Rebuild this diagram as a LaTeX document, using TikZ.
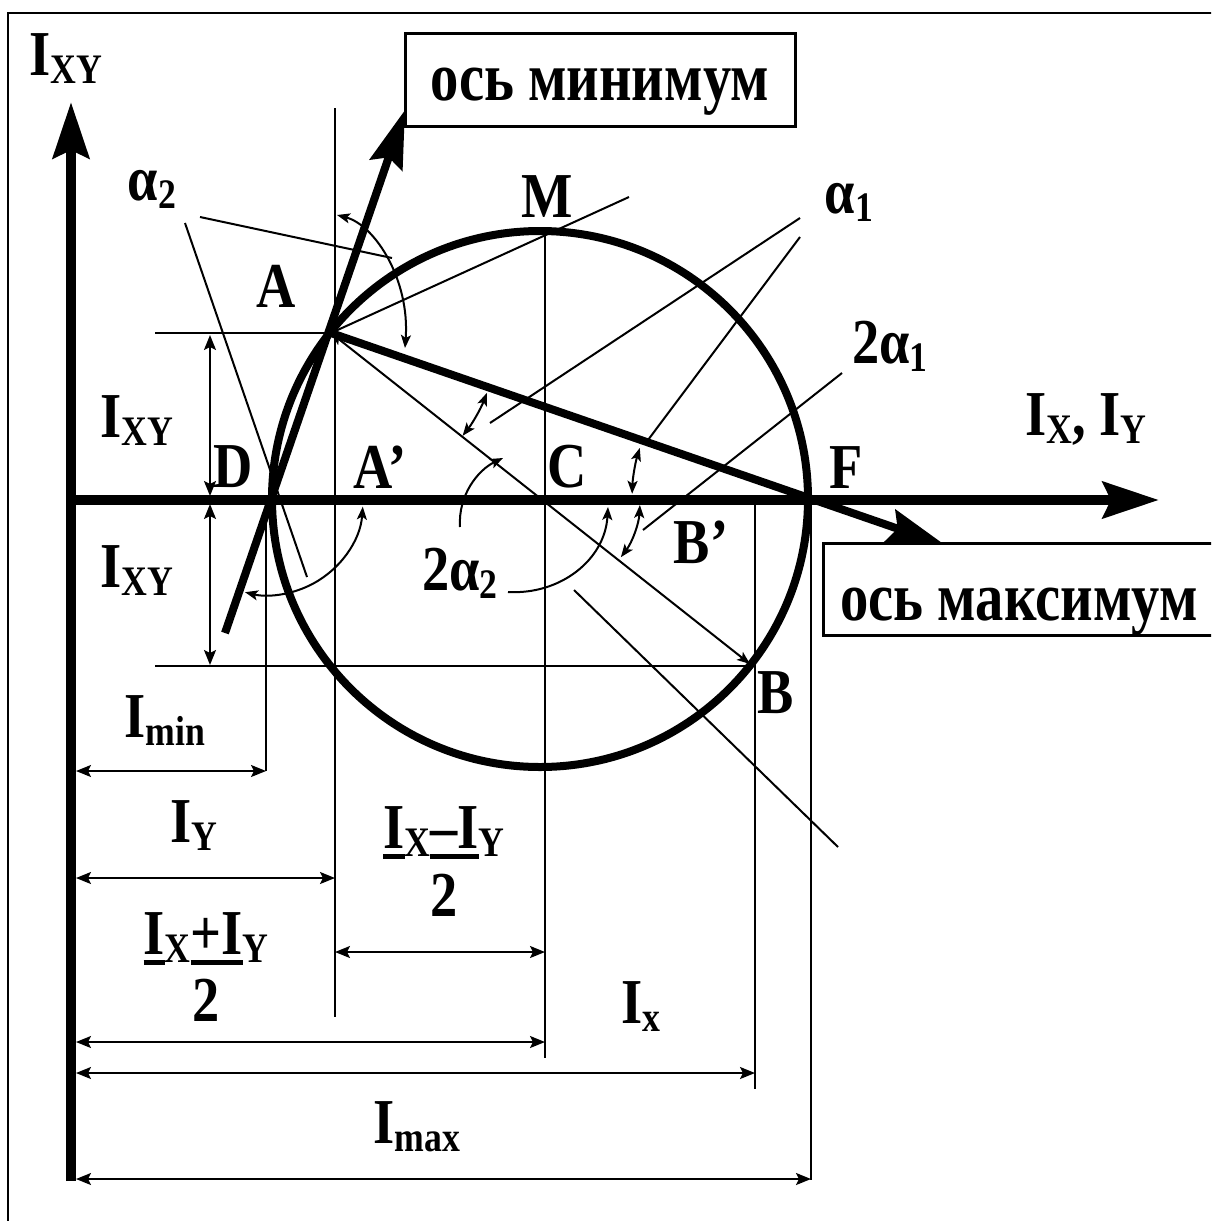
\documentclass[tikz,border=0pt]{standalone}
\usepackage{fontspec}
\setmainfont[FakeStretch=0.85]{Liberation Serif}
\newfontfamily\boxfont[FakeStretch=0.82]{Liberation Serif}
\usetikzlibrary{arrows.meta}
\newcommand\sbs[1]{\raisebox{-8pt}{\fontsize{42pt}{44pt}\selectfont #1}}
\newcommand\ulx[1]{\setbox0\hbox{#1}\rlap{\rule[-11pt]{\wd0}{5pt}}\box0}
\begin{document}
\begin{tikzpicture}[x=1pt,y=1pt,yscale=-1,
  lbl/.style={font=\fontsize{64pt}{64pt}\selectfont\bfseries, inner sep=0pt, anchor=base},
  boxlbl/.style={font=\boxfont\fontsize{69pt}{69pt}\selectfont\bfseries, inner sep=0pt, anchor=base},
  ln/.style={line width=2pt},
  dim/.style={line width=2pt, {Stealth[length=15pt,width=12pt,inset=3pt]}-{Stealth[length=15pt,width=12pt,inset=3pt]}},
  arcd/.style={line width=2pt, {Stealth[length=13pt,width=10pt,inset=3pt]}-{Stealth[length=13pt,width=10pt,inset=3pt]}},
  arcs/.style={line width=2pt, -{Stealth[length=13pt,width=10pt,inset=3pt]}},
  axis/.style={line width=10pt, -{Stealth[length=56pt,width=36pt,inset=8pt]}},
  paxis/.style={line width=8pt, -{Stealth[length=58pt,width=34pt,inset=8pt]}},
  boxed/.style={line width=3pt}
]
\useasboundingbox (0,0) rectangle (1211,1221);
\clip (0,0) rectangle (1211,1221);
% frame
\draw[line width=2pt] (8,1240) -- (8,13) -- (1230,13);

% key points
\coordinate (A) at (331,333);
\coordinate (B) at (750,664);
\coordinate (O) at (540,499);
\coordinate (Cv) at (545,500);
\coordinate (D) at (268,500);
\coordinate (F) at (810,500);

% thin construction lines
\draw[ln] (155,333) -- (A);
\draw[ln] (155,666) -- (755,666);
\draw[ln] (335,108) -- (335,1017);
\draw[ln] (545,232) -- (545,1058);
\draw[ln] (755,505) -- (755,1089);
\draw[ln] (811,505) -- (811,1180);
\draw[ln] (266,505) -- (266,771);
\draw[ln] (A) -- (629,197);
\draw[arcd] (A) -- (B);
% leaders
\draw[ln] (200,217) -- (392,258);
\draw[ln] (185,223) -- (307,577);
\draw[ln] (800,218) -- (490,423);
\draw[ln] (800,237) -- (648,440);
\draw[ln] (842,373) -- (643,530);
\draw[ln] (574,590) -- (838,847);

% dimension lines
\draw[dim] (210,335) -- (210,496);
\draw[dim] (210,504) -- (210,665);
\draw[dim] (76,771) -- (266,771);
\draw[dim] (76,878) -- (335,878);
\draw[dim] (335,952) -- (545,952);
\draw[dim] (76,1042) -- (545,1042);
\draw[dim] (76,1073) -- (755,1073);
\draw[dim] (76,1179) -- (811,1179);

% angle arcs
\draw[arcd] (A) ++(21:167) arc[start angle=21, end angle=38, radius=167];
\draw[arcd] (F) ++(182:178) arc[start angle=182, end angle=197, radius=178];
\draw[arcd] (Cv) ++(3:95) arc[start angle=3, end angle=37, radius=95];
\draw[arcd] (D) ++(4:95) arc[start angle=4, end angle=104, radius=95];
\draw[arcd] (337,215) .. controls (375,225) and (410,280) .. (405,348);
\draw[arcs] (460,527) .. controls (458,495) and (478,470) .. (503,458);
\draw[arcs] (508,592) .. controls (560,595) and (605,560) .. (608,507);

% circle
\draw[line width=8pt] (O) circle[radius=268];

% axes
\draw[axis] (71,1181) -- (71,102);
\draw[axis] (66,500) -- (1159,500);
\draw[paxis] (225,633) -- (405,110);
\draw[paxis] (A) -- (945,545);

% boxes
\draw[boxed] (405,33) rectangle (795,126);
\draw[boxed] (823,543) rectangle (1216,635);
\node[boxlbl] (tmin) at (600,100) {ось минимум};
\node[boxlbl] (tmax) at (1019,620) {ось максимум};

% labels
\node[lbl] (lIxyTop) at (66,75) {I\sbs{XY}};
\node[lbl] (la2) at (152,200) {α\sbs{2}};
\node[lbl] (lA) at (276,307) {A};
\node[lbl] (lM) at (547,217) {M};
\node[lbl] (la1) at (849,213) {α\sbs{1}};
\node[lbl] (l2a1) at (890,363) {2α\sbs{1}};
\node[lbl] (lIxIy) at (1086,435) {I\sbs{X}, I\sbs{Y}};
\node[lbl] (lF) at (846,488) {F};
\node[lbl] (lC) at (567,487) {C};
\node[lbl] (lD) at (233,487) {D};
\node[lbl] (lAp) at (380,488) {A’};
\node[lbl] (lBp) at (701,563) {B’};
\node[lbl] (lB) at (776,713) {B};
\node[lbl] (lIxy1) at (137,437) {I\sbs{XY}};
\node[lbl] (lIxy2) at (137,587) {I\sbs{XY}};
\node[lbl] (l2a2) at (460,590) {2α\sbs{2}};
\node[lbl] (lImin) at (165,737) {I\sbs{min}};
\node[lbl] (lIy) at (194,842) {I\sbs{Y}};
\node[lbl] (lfrac1) at (444,848) {\ulx{I}\sbs{X}\ulx{–I}\sbs{Y}};
\node[lbl] (lfrac1d) at (444,916) {2};
\node[lbl] (lfrac2) at (206,954) {\ulx{I}\sbs{X}\ulx{+I}\sbs{Y}};
\node[lbl] (lfrac2d) at (206,1021) {2};
\node[lbl] (lIx) at (641,1023) {I\sbs{x}};
\node[lbl] (lImax) at (417,1143) {I\sbs{max}};
\end{tikzpicture}
\end{document}
